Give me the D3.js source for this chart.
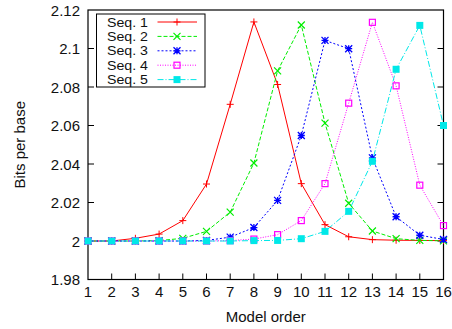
<!DOCTYPE html>
<html><head><meta charset="utf-8">
<script src="https://cdn.jsdelivr.net/npm/d3@7"></script>
<style>body{margin:0;background:#fff}text{font-family:"Liberation Sans",Arial,sans-serif;fill:#111}</style>
</head><body><svg id="c" width="452" height="329"></svg>
<script>
const orders = [1,2,3,4,5,6,7,8,9,10,11,12,13,14,15,16];
const seq1 = [2.0,2.0,2.0014,2.0036,2.0106,2.0296,2.071,2.1138,2.0813,2.0298,2.0085,2.0022,2.0007,2.0004,2.0003,2.0002];
const seq2 = [2.0,2.0,2.0,2.0002,2.0014,2.005,2.015,2.0405,2.0884,2.1122,2.0612,2.0196,2.0052,2.0012,2.0003,2.0001];
const seq3 = [2.0,2.0,2.0,2.0,2.0,2.0003,2.002,2.007,2.0211,2.0548,2.1042,2.0999,2.0432,2.0126,2.003,2.0008];
const seq4 = [2.0,2.0,2.0,2.0,2.0,2.0,2.0002,2.001,2.0033,2.0106,2.0298,2.0716,2.1136,2.0806,2.029,2.008];
const seq5 = [2.0,2.0,2.0,2.0,2.0,2.0,2.0,2.0002,2.0003,2.0012,2.005,2.0154,2.0414,2.0892,2.112,2.06];
const seriesNames = ["Seq. 1","Seq. 2","Seq. 3","Seq. 4","Seq. 5"];
const yTicks = [1.98,2.0,2.02,2.04,2.06,2.08,2.1,2.12];

const series = [
  {name:seriesNames[0], vals:seq1, color:"#ff0000", dash:null, marker:"plus"},
  {name:seriesNames[1], vals:seq2, color:"#00ee00", dash:"4,2", marker:"cross"},
  {name:seriesNames[2], vals:seq3, color:"#0000ff", dash:"2,2", marker:"star"},
  {name:seriesNames[3], vals:seq4, color:"#ff00ff", dash:"1,1.5", marker:"osq"},
  {name:seriesNames[4], vals:seq5, color:"#00e8e8", dash:"6,2,1,2", marker:"fsq"}
];

const svg = d3.select("#c");
const L=88, R=443.5, T=10, B=279.5;
const x = d3.scaleLinear().domain([1,16]).range([L,R]);
const y = d3.scaleLinear().domain([1.98,2.12]).range([B,T]);

svg.append("rect").attr("x",L).attr("y",T).attr("width",R-L).attr("height",B-T)
  .attr("fill","none").attr("stroke","#000").attr("stroke-width",1.2);

const g = svg.append("g").attr("font-size","15px");
yTicks.forEach(t=>{
  const yy=y(t);
  if(t>1.98 && t<2.12){
    g.append("line").attr("x1",L).attr("x2",L+6).attr("y1",yy).attr("y2",yy).attr("stroke","#000");
    g.append("line").attr("x1",R-6).attr("x2",R).attr("y1",yy).attr("y2",yy).attr("stroke","#000");
  }
  g.append("text").attr("x",L-8).attr("y",yy+5.5).attr("text-anchor","end").text(d3.format("")(t));
});
orders.forEach(o=>{
  const xx=x(o);
  if(o>1 && o<16) g.append("line").attr("x1",xx).attr("x2",xx).attr("y1",B).attr("y2",B-6).attr("stroke","#000");
  g.append("text").attr("x",xx).attr("y",B+17).attr("text-anchor","middle").text(o);
});
g.append("text").attr("x",(L+R)/2).attr("y",322).attr("text-anchor","middle").text("Model order");
g.append("text").attr("transform","translate(25,"+((T+B)/2)+") rotate(-90)").attr("text-anchor","middle").text("Bits per base");

function drawMarker(sel, m, cx, cy, color){
  const s=3.5;
  if(m==="plus"){
    sel.append("path").attr("d",`M${cx-s},${cy}H${cx+s}M${cx},${cy-s}V${cy+s}`).attr("stroke",color).attr("stroke-width",1).attr("fill","none");
  } else if(m==="cross"){
    sel.append("path").attr("d",`M${cx-s},${cy-s}L${cx+s},${cy+s}M${cx-s},${cy+s}L${cx+s},${cy-s}`).attr("stroke",color).attr("stroke-width",1.2).attr("fill","none");
  } else if(m==="star"){
    sel.append("path").attr("d",`M${cx-s},${cy}H${cx+s}M${cx},${cy-s}V${cy+s}M${cx-s},${cy-s}L${cx+s},${cy+s}M${cx-s},${cy+s}L${cx+s},${cy-s}`).attr("stroke",color).attr("stroke-width",1.3).attr("fill","none");
  } else if(m==="osq"){
    sel.append("rect").attr("x",cx-3).attr("y",cy-3).attr("width",6).attr("height",6).attr("fill","none").attr("stroke",color).attr("stroke-width",1.2);
  } else if(m==="fsq"){
    sel.append("rect").attr("x",cx-3.5).attr("y",cy-3.5).attr("width",7).attr("height",7).attr("fill",color);
  }
}

const line = d3.line().x((d,i)=>x(orders[i])).y(d=>y(d));
series.forEach(s=>{
  const gs = svg.append("g");
  gs.append("path").datum(s.vals).attr("d",line).attr("fill","none").attr("stroke",s.color)
    .attr("stroke-width",1).attr("stroke-dasharray",s.dash);
  s.vals.forEach((v,i)=>drawMarker(gs,s.marker,x(orders[i]),y(v),s.color));
});

const lg = svg.append("g");
lg.append("rect").attr("x",96.5).attr("y",14).attr("width",108.5).attr("height",73).attr("fill","#fff").attr("stroke","#000").attr("stroke-width",1);
series.forEach((s,i)=>{
  const cy = 22 + i*14.4;
  lg.append("text").attr("x",148).attr("y",cy+4.5).attr("text-anchor","end").attr("font-size","12.5px")
    .attr("textLength",41).attr("lengthAdjust","spacingAndGlyphs").text(s.name);
  lg.append("line").attr("x1",157.5).attr("x2",197).attr("y1",cy).attr("y2",cy).attr("stroke",s.color).attr("stroke-dasharray",s.dash);
  drawMarker(lg,s.marker,177,cy,s.color);
});
</script></body></html>
